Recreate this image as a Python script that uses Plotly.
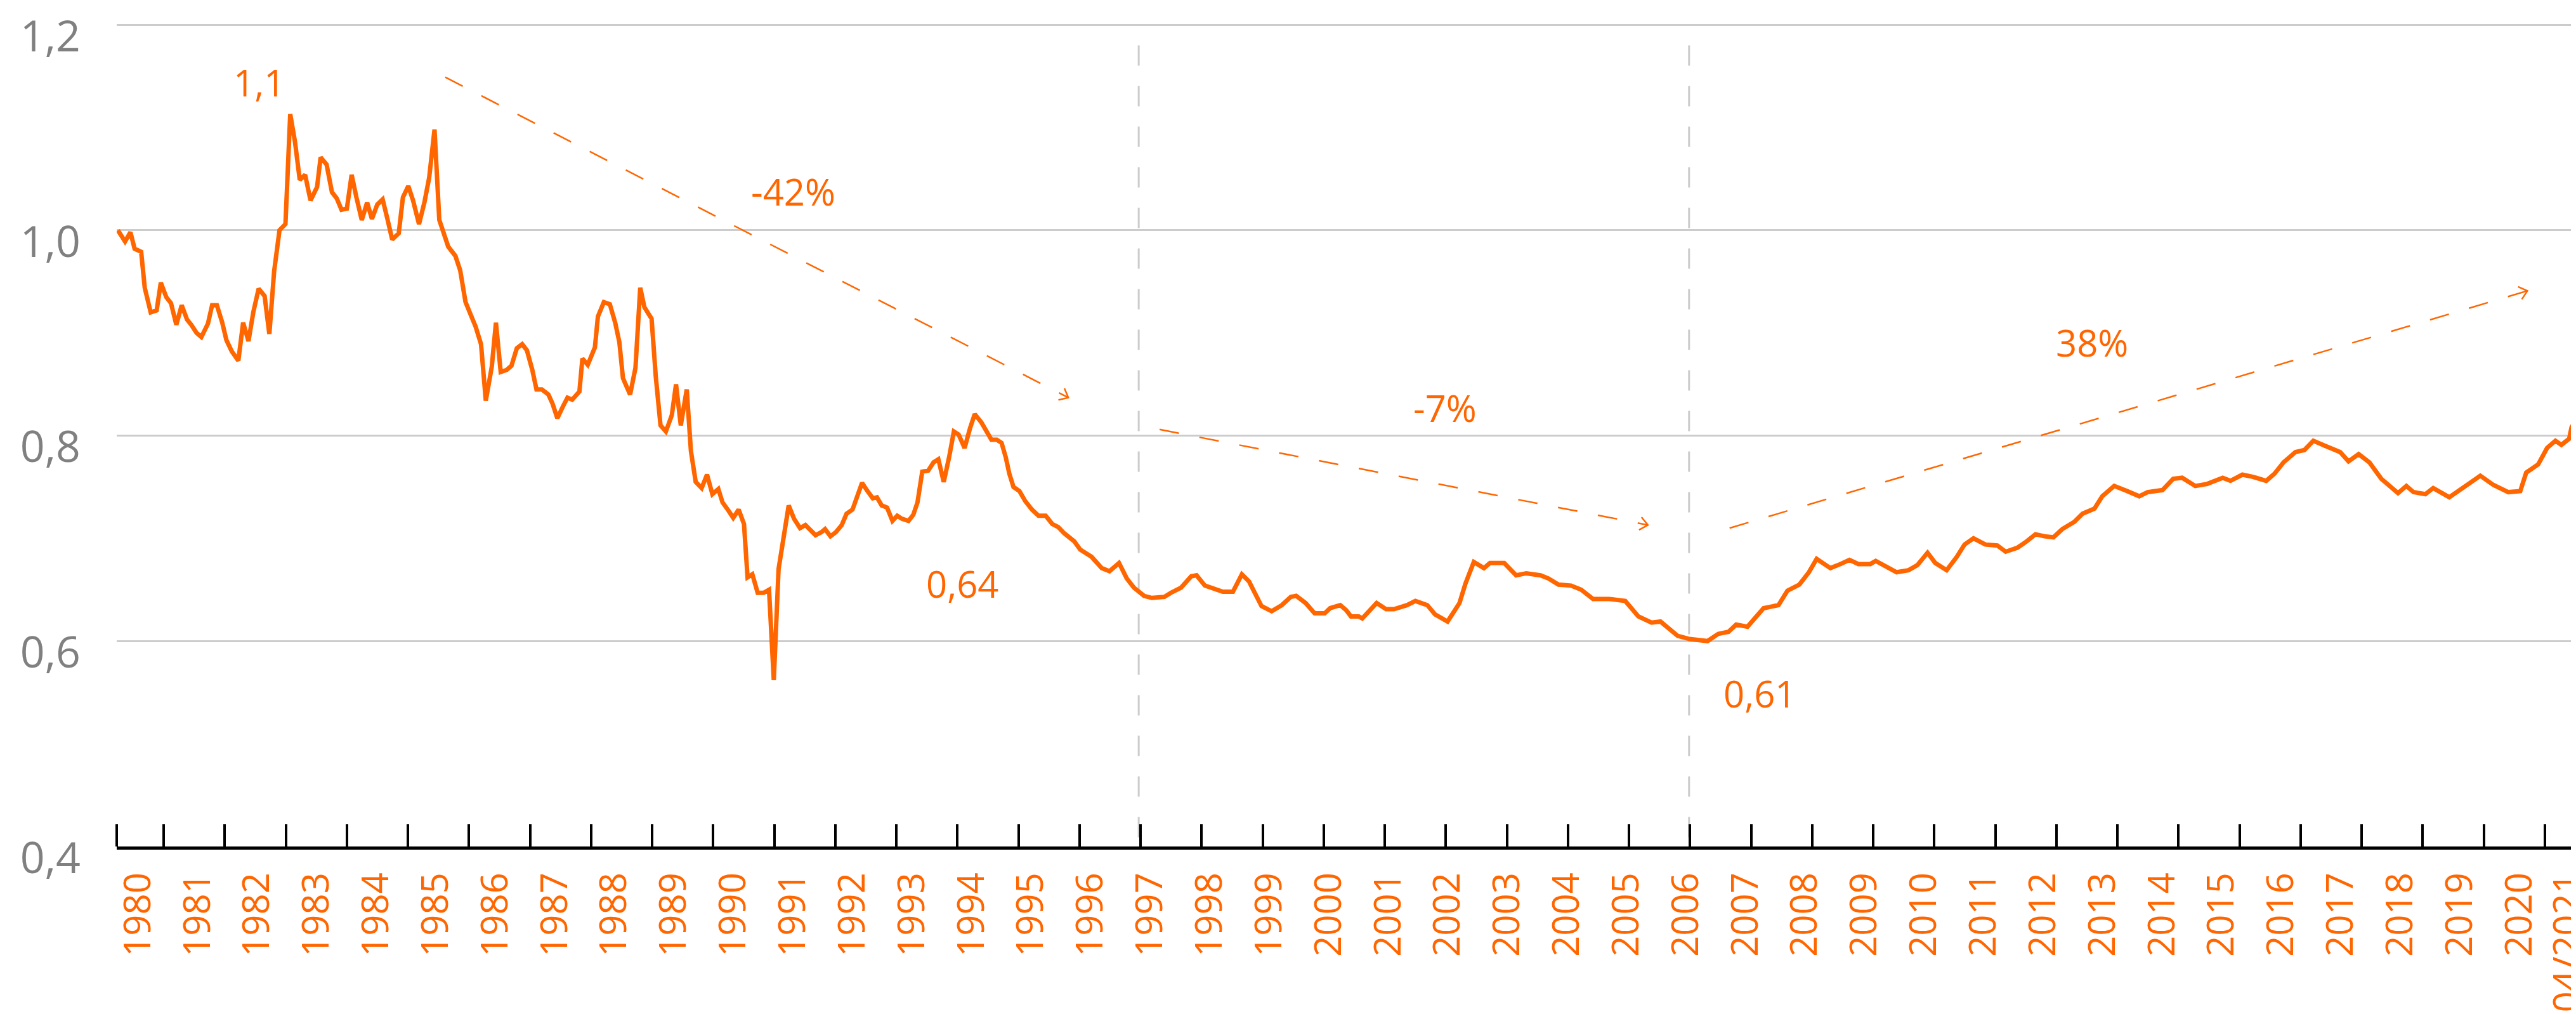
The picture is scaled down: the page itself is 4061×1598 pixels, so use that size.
import math
import plotly.graph_objects as go

# ---------------- data (decimal year, index value) ----------------
period_x = [
    1980.02, 1980.14, 1980.23, 1980.30, 1980.41, 1980.47, 1980.57, 1980.67, 1980.74, 1980.83, 1980.91,
    1981.00, 1981.09, 1981.18, 1981.25, 1981.34, 1981.42, 1981.53, 1981.60, 1981.68, 1981.77, 1981.84, 1981.93,
    1982.04, 1982.12, 1982.21, 1982.29, 1982.38, 1982.48, 1982.56, 1982.64, 1982.73, 1982.83, 1982.91, 1982.99,
    1983.07, 1983.16, 1983.25, 1983.36, 1983.42, 1983.52, 1983.61, 1983.69, 1983.77, 1983.86, 1983.94,
    1984.02, 1984.11, 1984.20, 1984.28, 1984.37, 1984.46, 1984.54, 1984.62, 1984.73, 1984.80, 1984.89, 1984.97,
    1985.07, 1985.16, 1985.24, 1985.33, 1985.41, 1985.48, 1985.56, 1985.68, 1985.76, 1985.85, 1985.94,
    1986.02, 1986.11, 1986.19, 1986.29, 1986.36, 1986.44, 1986.54, 1986.62, 1986.71, 1986.80, 1986.88, 1986.97,
    1987.04, 1987.13, 1987.24, 1987.31, 1987.39, 1987.48, 1987.56, 1987.64, 1987.76, 1987.81, 1987.90,
    1988.02, 1988.07, 1988.17, 1988.27, 1988.36, 1988.43, 1988.49, 1988.61, 1988.70, 1988.78, 1988.85, 1988.97,
    1989.04, 1989.12, 1989.21, 1989.31, 1989.38, 1989.46, 1989.56, 1989.63, 1989.71, 1989.81, 1989.90, 1989.99,
    1990.09, 1990.16, 1990.26, 1990.34, 1990.43, 1990.52, 1990.58, 1990.66, 1990.75, 1990.85, 1990.94,
    1991.02, 1991.10, 1991.17, 1991.27, 1991.36, 1991.46, 1991.55, 1991.63, 1991.72, 1991.82, 1991.88, 1991.97,
    1992.06, 1992.16, 1992.24, 1992.34, 1992.41, 1992.50, 1992.58, 1992.68, 1992.75, 1992.83, 1992.92,
    1993.01, 1993.09, 1993.17, 1993.28, 1993.36, 1993.43, 1993.51, 1993.61, 1993.70, 1993.78, 1993.87, 1993.96,
    1994.04, 1994.12, 1994.22, 1994.31, 1994.39, 1994.50, 1994.60, 1994.67, 1994.76, 1994.84, 1994.91, 1994.97,
    1995.04, 1995.14, 1995.24, 1995.35, 1995.46, 1995.58, 1995.69, 1995.79, 1995.89,
    1996.06, 1996.16, 1996.35, 1996.52, 1996.65, 1996.81, 1996.94,
    1997.06, 1997.23, 1997.36, 1997.57, 1997.68, 1997.85, 1998.02, 1998.11, 1998.25, 1998.38, 1998.55, 1998.72,
    1998.87, 1998.99, 1999.20, 1999.37, 1999.54, 1999.69, 1999.78, 1999.94, 2000.09, 2000.26, 2000.35, 2000.52,
    2000.62, 2000.70, 2000.83, 2000.89, 2001.02, 2001.13, 2001.29, 2001.42, 2001.64, 2001.78, 2001.98,
    2002.11, 2002.32, 2002.52, 2002.62, 2002.76, 2002.93, 2003.03, 2003.27, 2003.47, 2003.64, 2003.88,
    2004.01, 2004.18, 2004.39, 2004.56, 2004.76, 2005.03, 2005.30, 2005.52, 2005.74, 2005.89,
    2006.18, 2006.38, 2006.68, 2006.86, 2007.03, 2007.16, 2007.35, 2007.62, 2007.87, 2008.02, 2008.22, 2008.38,
    2008.51, 2008.74, 2008.91, 2009.06, 2009.21, 2009.41, 2009.50, 2009.85, 2010.05, 2010.20, 2010.37, 2010.50,
    2010.69, 2010.86, 2010.99, 2011.14, 2011.34, 2011.54, 2011.68, 2011.88, 2012.03, 2012.18, 2012.33, 2012.48,
    2012.63, 2012.83, 2012.97, 2013.17, 2013.30, 2013.50, 2013.72, 2013.92, 2014.06, 2014.31, 2014.49, 2014.64,
    2014.86, 2015.06, 2015.32, 2015.45, 2015.65, 2015.82, 2016.05, 2016.19, 2016.34, 2016.54, 2016.69, 2016.84,
    2017.04, 2017.29, 2017.43, 2017.60, 2017.78, 2017.98, 2018.26, 2018.40, 2018.52, 2018.72, 2018.85,
    2019.12, 2019.32, 2019.47, 2019.64, 2019.86, 2020.11, 2020.31, 2020.41, 2020.61, 2020.76, 2020.90,
    2021.00, 2021.13, 2021.17, 2021.25, 2021.33, 2021.36,
]
index_value = [
    1.000, 0.989, 0.998, 0.982, 0.979, 0.944, 0.920, 0.922, 0.949, 0.935, 0.929,
    0.908, 0.927, 0.913, 0.908, 0.900, 0.896, 0.909, 0.927, 0.927, 0.910, 0.893, 0.882,
    0.873, 0.910, 0.892, 0.920, 0.943, 0.936, 0.899, 0.960, 1.000, 1.006, 1.113, 1.086,
    1.049, 1.054, 1.029, 1.042, 1.071, 1.064, 1.037, 1.031, 1.020, 1.021, 1.054,
    1.032, 1.010, 1.027, 1.011, 1.025, 1.030, 1.011, 0.991, 0.997, 1.032, 1.043, 1.029,
    1.006, 1.027, 1.051, 1.098, 1.010, 0.997, 0.984, 0.975, 0.961, 0.930, 0.918,
    0.906, 0.889, 0.834, 0.867, 0.910, 0.862, 0.864, 0.868, 0.885, 0.889, 0.883, 0.864,
    0.845, 0.845, 0.840, 0.831, 0.817, 0.828, 0.837, 0.835, 0.843, 0.875, 0.869,
    0.886, 0.916, 0.930, 0.928, 0.910, 0.891, 0.856, 0.840, 0.866, 0.944, 0.925, 0.914,
    0.858, 0.810, 0.804, 0.820, 0.850, 0.810, 0.845, 0.785, 0.755, 0.749, 0.762, 0.743,
    0.748, 0.735, 0.727, 0.720, 0.728, 0.714, 0.662, 0.665, 0.647, 0.647, 0.650,
    0.562, 0.670, 0.694, 0.732, 0.719, 0.710, 0.713, 0.708, 0.703, 0.706, 0.709, 0.702,
    0.706, 0.713, 0.724, 0.728, 0.739, 0.754, 0.747, 0.739, 0.740, 0.732, 0.730,
    0.717, 0.722, 0.719, 0.717, 0.723, 0.735, 0.765, 0.766, 0.774, 0.777, 0.755, 0.779,
    0.804, 0.801, 0.788, 0.807, 0.821, 0.813, 0.804, 0.796, 0.796, 0.793, 0.779, 0.763,
    0.750, 0.746, 0.736, 0.728, 0.722, 0.722, 0.714, 0.711, 0.705,
    0.697, 0.689, 0.682, 0.671, 0.668, 0.676, 0.661,
    0.652, 0.644, 0.642, 0.643, 0.647, 0.652, 0.663, 0.664, 0.654, 0.651, 0.648, 0.648,
    0.665, 0.658, 0.634, 0.629, 0.635, 0.643, 0.644, 0.637, 0.627, 0.627, 0.632, 0.635,
    0.630, 0.624, 0.624, 0.622, 0.630, 0.637, 0.631, 0.631, 0.635, 0.639, 0.635,
    0.626, 0.619, 0.637, 0.656, 0.677, 0.671, 0.676, 0.676, 0.664, 0.666, 0.664,
    0.661, 0.655, 0.654, 0.650, 0.641, 0.641, 0.639, 0.624, 0.618, 0.619,
    0.605, 0.602, 0.600, 0.607, 0.609, 0.616, 0.614, 0.632, 0.635, 0.649, 0.655, 0.667,
    0.680, 0.671, 0.675, 0.679, 0.675, 0.675, 0.678, 0.667, 0.669, 0.674, 0.686, 0.676,
    0.669, 0.682, 0.694, 0.700, 0.694, 0.693, 0.687, 0.691, 0.697, 0.704, 0.702, 0.701,
    0.709, 0.716, 0.724, 0.729, 0.741, 0.751, 0.746, 0.741, 0.745, 0.747, 0.758, 0.759,
    0.751, 0.753, 0.759, 0.756, 0.762, 0.760, 0.756, 0.763, 0.774, 0.784, 0.786, 0.795,
    0.790, 0.784, 0.775, 0.782, 0.774, 0.758, 0.744, 0.751, 0.745, 0.743, 0.749,
    0.740, 0.748, 0.754, 0.761, 0.752, 0.745, 0.746, 0.764, 0.772, 0.788, 0.795,
    0.791, 0.797, 0.808, 0.816, 0.833, 0.840,
]

year_labels = [str(y) for y in range(1980, 2021)] + ["04/2021"]

# reference lines at the two lows
low_marks_x = [1997.14, 2006.37]

# trend arrows
trend_start_x = [1985.51, 1997.49, 2007.05]
trend_start_y = [1.149, 0.806, 0.710]
trend_end_x = [1995.96, 2005.68, 2020.43]
trend_end_y = [0.837, 0.713, 0.941]
trend_text = ["-42%", "-7%", "38%"]
trend_text_x = [1991.35, 2002.28, 2013.13]
trend_text_y = [1.038, 0.827, 0.891]

# value call-outs
callout_text = ["1,1", "0,64", "0,61"]
callout_x = [1982.39, 1994.19, 2007.56]
callout_y = [1.144, 0.656, 0.549]

source_text = "Fonte: IBGE; Elaboração: Valor Data; Relatório Mensal"

# ---------------- layout geometry ----------------
W, H = 4061, 1598
ML, MR, MT, MB = 176, 0, 23, 272
X0, X1 = 1980.0, 2021.33
Y0, Y1 = 0.4, 1.205
PW, PH = W - ML - MR, H - MT - MB

ORANGE = "#ff6600"
FONT = "Open Sans"


def to_px(x, y):
    return ML + (x - X0) / (X1 - X0) * PW, MT + (Y1 - y) / (Y1 - Y0) * PH


def from_px(px, py):
    return X0 + (px - ML) / PW * (X1 - X0), Y1 - (py - MT) / PH * (Y1 - Y0)


# label / tick placement along the axis (axis styling)
label_pos = [1980.36 + 0.9984 * i for i in range(41)] + [2021.11]
minor_pos = [1980.0] + [1980.0 + (74 + 96.25 * k) / PW * (X1 - X0) for k in range(40)]

fig = go.Figure()

fig.add_trace(go.Scatter(
    x=period_x, y=index_value, mode="lines",
    line=dict(color=ORANGE, width=7), hoverinfo="skip", showlegend=False,
))

# trend arrows: dashed shaft + open arrow head
for sx, sy, ex, ey in zip(trend_start_x, trend_start_y, trend_end_x, trend_end_y):
    fig.add_trace(go.Scatter(
        x=[sx, ex], y=[sy, ey], mode="lines",
        line=dict(color=ORANGE, width=2.5, dash="31px,33px"),
        hoverinfo="skip", showlegend=False,
    ))
    spx, spy = to_px(sx, sy)
    epx, epy = to_px(ex, ey)
    dx, dy = epx - spx, epy - spy
    n = math.hypot(dx, dy)
    ux, uy = dx / n, dy / n
    wx, wy = [], []
    for ang in (40, -40):
        a = math.radians(ang)
        rx = -(ux * math.cos(a) - uy * math.sin(a)) * 16
        ry = -(ux * math.sin(a) + uy * math.cos(a)) * 16
        p = from_px(epx + rx, epy + ry)
        wx.append(p[0])
        wy.append(p[1])
    fig.add_trace(go.Scatter(
        x=[wx[0], ex, wx[1]], y=[wy[0], ey, wy[1]], mode="lines",
        line=dict(color=ORANGE, width=2.5), hoverinfo="skip", showlegend=False,
    ))

shapes = []
for x in low_marks_x:
    shapes.append(dict(
        type="line", xref="x", yref="y", x0=x, x1=x, y0=1.18, y1=0.4,
        line=dict(color="#cccccc", width=3, dash="32px,32px"), layer="below",
    ))

annotations = []
for t, x, y in zip(trend_text + callout_text, trend_text_x + callout_x, trend_text_y + callout_y):
    annotations.append(dict(
        x=x, y=y, xref="x", yref="y", text=t, showarrow=False,
        xanchor="center", yanchor="middle",
        font=dict(family=FONT, size=58, color=ORANGE),
    ))
annotations.append(dict(
    x=0, y=(MT + PH - 1582) / PH, xref="paper", yref="paper", text=source_text,
    showarrow=False, xanchor="left", yanchor="top",
    font=dict(family=FONT, size=38, color="black"),
))

fig.update_layout(
    width=W, height=H,
    margin=dict(l=ML, r=MR, t=MT, b=MB, pad=0),
    paper_bgcolor="white", plot_bgcolor="white",
    separators=",.",
    showlegend=False,
    shapes=shapes,
    annotations=annotations,
    xaxis=dict(
        range=[X0, X1], showgrid=False, zeroline=False,
        showline=True, linecolor="black", linewidth=5,
        tickmode="array", tickvals=label_pos, ticktext=year_labels,
        ticks="", tickangle=-90, ticklabelstandoff=13, ticklabeloverflow="allow",
        tickfont=dict(family=FONT, size=58, color=ORANGE),
        minor=dict(tickmode="array", tickvals=minor_pos, ticks="inside",
                   ticklen=35, tickwidth=4, tickcolor="black", showgrid=False),
        automargin=False, fixedrange=True,
    ),
    yaxis=dict(
        range=[Y0, Y1], tickmode="array", tickvals=[0.4, 0.6, 0.8, 1.0, 1.2],
        tickformat=".1f", showgrid=True, gridcolor="#cccccc", gridwidth=3,
        zeroline=False, showline=False, ticks="",
        tickfont=dict(family=FONT, size=68, color="#808080"),
        ticklabelstandoff=56, ticklabelshift=18, ticklabeloverflow="allow",
        automargin=False, fixedrange=True,
    ),
)

fig.write_html("out.html")
